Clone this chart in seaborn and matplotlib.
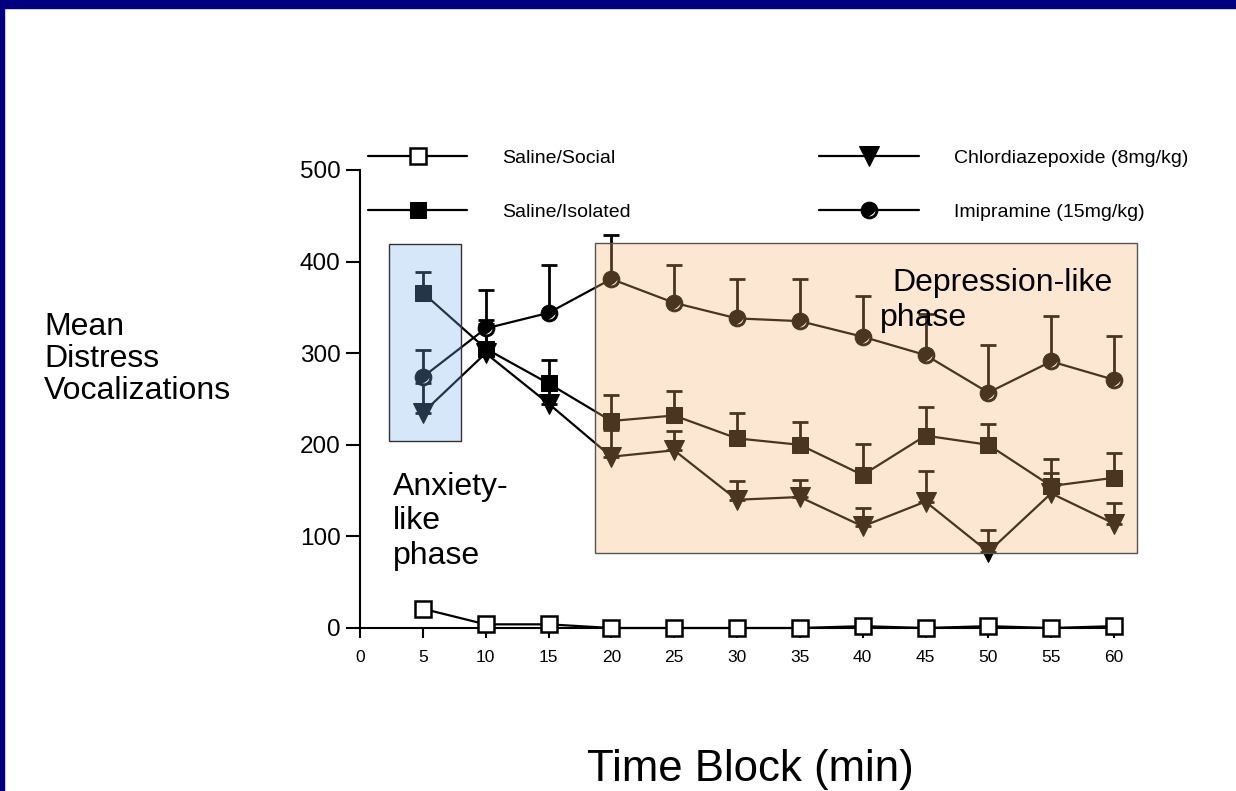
import matplotlib
matplotlib.use("Agg")
import matplotlib.pyplot as plt
from matplotlib.patches import Rectangle
from matplotlib.path import Path
from matplotlib.legend_handler import HandlerTuple
import numpy as np
import seaborn as sns

sns.set_style("ticks")
plt.rcParams['font.family'] = ['Liberation Sans', 'DejaVu Sans']
plt.rcParams.update({"text.color": "black", "axes.edgecolor": "black",
                     "xtick.color": "black", "ytick.color": "black",
                     "axes.labelcolor": "black"})

# time blocks (min)
time_block = [5, 10, 15, 20, 25, 30, 35, 40, 45, 50, 55, 60]

# means
saline_social = [21, 4, 4, 0, 0, 0, 0, 2, 0, 2, 0, 2]
saline_isolated = [366, 305, 267, 226, 232, 207, 200, 167, 210, 200, 155, 164]
chlordiazepoxide = [235, 300, 245, 187, 194, 140, 143, 111, 138, 83, 147, 114]
imipramine = [274, 327, 344, 381, 355, 338, 335, 318, 298, 257, 291, 271]

# top of the (upper only) error bars
isolated_top = [389, 336, 293, 254, 259, 235, 225, 201, 241, 223, 185, 191]
chlordiazepoxide_top = [268, 332, 262, 216, 215, 161, 162, 131, 171, 107, 169, 136]
imipramine_top = [303, 369, 396, 429, 396, 381, 381, 362, 343, 309, 341, 319]

fig = plt.figure(figsize=(12.36, 7.91), dpi=100)
fig.patch.set_facecolor("white")
ax = fig.add_axes([360 / 1236, 1 - 628 / 791, 754 / 1236, 458 / 791])

# navy slide frame (top and left edges)
fig.patches.append(Rectangle((0, 1 - 8 / 791), 1, 8 / 791, transform=fig.transFigure,
                             color="#000080", zorder=0))
fig.patches.append(Rectangle((0, 0), 4 / 1236, 1, transform=fig.transFigure,
                             color="#000080", zorder=0))

x = np.array(time_block)

# error bars (upper side only)
for mean, top in [(saline_isolated, isolated_top),
                  (chlordiazepoxide, chlordiazepoxide_top),
                  (imipramine, imipramine_top)]:
    mean = np.array(mean)
    up = np.array(top) - mean
    ax.errorbar(x, mean, yerr=[np.zeros_like(up), up], fmt="none", ecolor="black",
                elinewidth=2, capsize=6, capthick=2, zorder=2, clip_on=False)

line_kw = dict(color="black", linewidth=1.6, clip_on=False, zorder=3)
sns.lineplot(x=x, y=saline_social, marker="s", markersize=11, markerfacecolor="white",
             markeredgecolor="black", markeredgewidth=1.8, label="Saline/Social", ax=ax, **line_kw)
sns.lineplot(x=x, y=saline_isolated, marker="s", markersize=12, markerfacecolor="black",
             markeredgecolor="black", label="Saline/Isolated", ax=ax, **line_kw)
sns.lineplot(x=x, y=chlordiazepoxide, marker="v", markersize=15, markerfacecolor="black",
             markeredgecolor="black", label="Chlordiazepoxide (8mg/kg)", ax=ax, **line_kw)
sns.lineplot(x=x, y=imipramine, marker="o", markersize=12, markerfacecolor="black",
             markeredgecolor="black", label="Imipramine (15mg/kg)", ax=ax, **line_kw)

# thin white crescent highlight on the imipramine circles
t = np.linspace(np.deg2rad(-100), np.deg2rad(0), 24)
r_in = 1.0 - 0.2 * np.sin(np.linspace(0, np.pi, 24))
verts = np.vstack([np.column_stack([np.cos(t), np.sin(t)]),
                   np.column_stack([r_in[::-1] * np.cos(t[::-1]),
                                    r_in[::-1] * np.sin(t[::-1])])])
crescent = Path(np.vstack([verts, verts[:1]]), closed=True)
shine = ax.plot(x, imipramine, linestyle="none", marker=crescent, markersize=8.5,
                markerfacecolor="white", markeredgewidth=0, zorder=4, clip_on=False)[0]

# phase boxes drawn over the data, semi-transparent
ax.add_patch(Rectangle((2.3, 204), 5.7, 215, facecolor=(122 / 255, 178 / 255, 238 / 255),
                       alpha=0.3, edgecolor="none", zorder=5, clip_on=False))
ax.add_patch(Rectangle((2.3, 204), 5.7, 215, facecolor="none", edgecolor="#333333",
                       linewidth=1, zorder=5, clip_on=False))
ax.add_patch(Rectangle((18.7, 82), 43.1, 338, facecolor=(247 / 255, 178 / 255, 112 / 255),
                       alpha=0.3, edgecolor="none", zorder=5, clip_on=False))
ax.add_patch(Rectangle((18.7, 82), 43.1, 338, facecolor="none", edgecolor="#555555",
                       linewidth=1, zorder=5, clip_on=False))

ax.text(2.6, 170, "Anxiety-\nlike\nphase", fontsize=23, va="top", ha="left",
        linespacing=1.18, zorder=6)
ax.text(42.4, 393, "Depression-like", fontsize=23, va="top", ha="left", zorder=6)
ax.text(41.4, 355, "phase", fontsize=23, va="top", ha="left", zorder=6)

ax.set_xlim(0, 60)
ax.set_ylim(0, 500)
ax.set_xticks(range(0, 61, 5))
ax.set_yticks(range(0, 501, 100))
ax.tick_params(axis="x", labelsize=12.5, length=7, width=1.5, direction="out", pad=9)
ax.tick_params(axis="y", labelsize=17.5, length=10, width=1.5, direction="out", pad=4)
sns.despine(ax=ax)
for s in ["left", "bottom"]:
    ax.spines[s].set_linewidth(1.5)
ax.set_xlabel("")
ax.set_ylabel("")

fig.text(44 / 1236, 1 - 359 / 791, "Mean\nDistress\nVocalizations", fontsize=23,
         ha="left", va="center", linespacing=1.07)
fig.text(750 / 1236, 1 - 770 / 791, "Time Block (min)", fontsize=31.5, ha="center", va="center")

handles, labels = ax.get_legend_handles_labels()
handles[3] = (handles[3], shine)
ax.legend(handles, labels, ncol=2, frameon=False, loc="upper left",
          bbox_to_anchor=(368 / 1236, 1 - 149 / 791), bbox_transform=fig.transFigure,
          fontsize=14, handlelength=5.1, handletextpad=1.8, columnspacing=9.7,
          labelspacing=1.9, borderpad=0, borderaxespad=0,
          handler_map={tuple: HandlerTuple(ndivide=1)})

fig.savefig("out.png", dpi=100)
